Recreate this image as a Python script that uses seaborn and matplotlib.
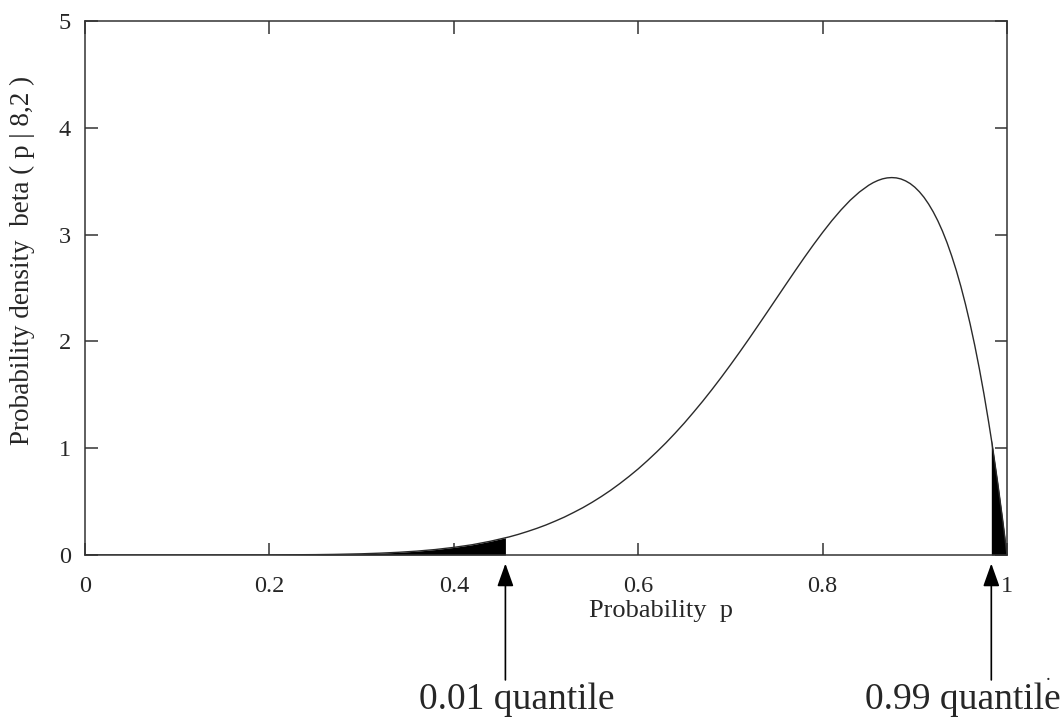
import numpy as np
import pandas as pd
import matplotlib
matplotlib.use("Agg")
import matplotlib.pyplot as plt
import seaborn as sns

# density of beta(p | 8,2)
p_vals = [0.0, 0.1, 0.2, 0.25, 0.27, 0.30, 0.32, 0.34, 0.36, 0.38, 0.40, 0.42, 0.44,
          0.456, 0.46, 0.47, 0.48, 0.49, 0.50, 0.51, 0.52, 0.53, 0.54, 0.55, 0.56,
          0.57, 0.58, 0.59, 0.60, 0.61, 0.62, 0.63, 0.64, 0.65, 0.66, 0.67, 0.68,
          0.69, 0.70, 0.71, 0.72, 0.73, 0.74, 0.75, 0.76, 0.77, 0.78, 0.79, 0.80,
          0.81, 0.82, 0.83, 0.84, 0.85, 0.855, 0.86, 0.865, 0.87, 0.875, 0.88,
          0.885, 0.89, 0.895, 0.90, 0.905, 0.91, 0.915, 0.92, 0.925, 0.93, 0.935,
          0.94, 0.945, 0.95, 0.955, 0.96, 0.965, 0.97, 0.975, 0.98, 0.983, 0.985,
          0.99, 0.995, 0.9975, 1.0]
density = [0.0, 0.0, 0.0007, 0.0033, 0.0055, 0.011, 0.017, 0.025, 0.036, 0.051, 0.071,
           0.096, 0.129, 0.161, 0.169, 0.193, 0.220, 0.249, 0.281, 0.317, 0.355, 0.398,
           0.443, 0.493, 0.547, 0.605, 0.668, 0.735, 0.806, 0.883, 0.964, 1.049, 1.140,
           1.235, 1.336, 1.440, 1.549, 1.662, 1.779, 1.899, 2.022, 2.148, 2.275, 2.403,
           2.531, 2.658, 2.783, 2.904, 3.020, 3.130, 3.231, 3.322, 3.399, 3.462, 3.487,
           3.507, 3.522, 3.531, 3.534, 3.531, 3.521, 3.503, 3.478, 3.444, 3.401, 3.349,
           3.286, 3.213, 3.129, 3.033, 2.924, 2.801, 2.665, 2.514, 2.347, 2.164, 1.964,
           1.745, 1.508, 1.250, 1.086, 0.972, 0.671, 0.348, 0.177, 0.0]

q_low = 0.456
q_high = 0.983
quantile_labels = ["0.01 quantile", "0.99 quantile"]
label_shift = [0.012, -0.031]

df = pd.DataFrame({"p": p_vals, "density": density})

sns.set_style("ticks")
plt.rcParams["font.family"] = ["Liberation Serif", "DejaVu Serif"]

fig = plt.figure(figsize=(10.62, 7.2), dpi=100)
ax = fig.add_axes([0.0800, 0.2292, 0.8682, 0.7416])

# shaded tails
low = df[df["p"] <= q_low]
high = df[df["p"] >= q_high]
ax.fill_between(low["p"], 0, low["density"], color="black", lw=0)
ax.fill_between(high["p"], 0, high["density"], color="black", lw=0)

sns.lineplot(data=df, x="p", y="density", ax=ax, color="#2a2a2a", lw=1.0)

ax.set_xlim(0, 1)
ax.set_ylim(0, 5)
ax.set_xticks([0, 0.2, 0.4, 0.6, 0.8, 1])
ax.set_xticklabels(["0", "0.2", "0.4", "0.6", "0.8", "1"])
ax.set_yticks([0, 1, 2, 3, 4, 5])
ax.tick_params(direction="in", length=9, width=1.1, labelsize=17.5,
               top=True, right=True, color="#333333")
ax.tick_params(axis="x", pad=15)
ax.tick_params(axis="y", pad=10)
for s in ax.spines.values():
    s.set_linewidth(1.1)
    s.set_color("#333333")

ax.set_xlabel("Probability  p", fontsize=19)
ax.set_ylabel("Probability density  beta ( p | 8,2 )", fontsize=19.5)
ax.xaxis.set_label_coords(0.625, -0.085)
ax.yaxis.set_label_coords(-0.054, 0.552)

# quantile arrows
for q, lab, dx in zip([q_low, q_high], quantile_labels, label_shift):
    ax.annotate("", xy=(q, -0.016), xytext=(q, -0.234),
                xycoords=("data", "axes fraction"), textcoords=("data", "axes fraction"),
                annotation_clip=False,
                arrowprops=dict(arrowstyle="-|>,head_length=1.4,head_width=0.5",
                                color="black", lw=1.2, shrinkA=0, shrinkB=0))
    ax.text(q + dx, -0.272, lab, transform=ax.get_xaxis_transform(),
            ha="center", va="center", fontsize=27, clip_on=False)

fig.text(1048 / 1062, 1 - 680 / 720, ".", fontsize=14, ha="center")

fig.savefig("out.png", dpi=100)
